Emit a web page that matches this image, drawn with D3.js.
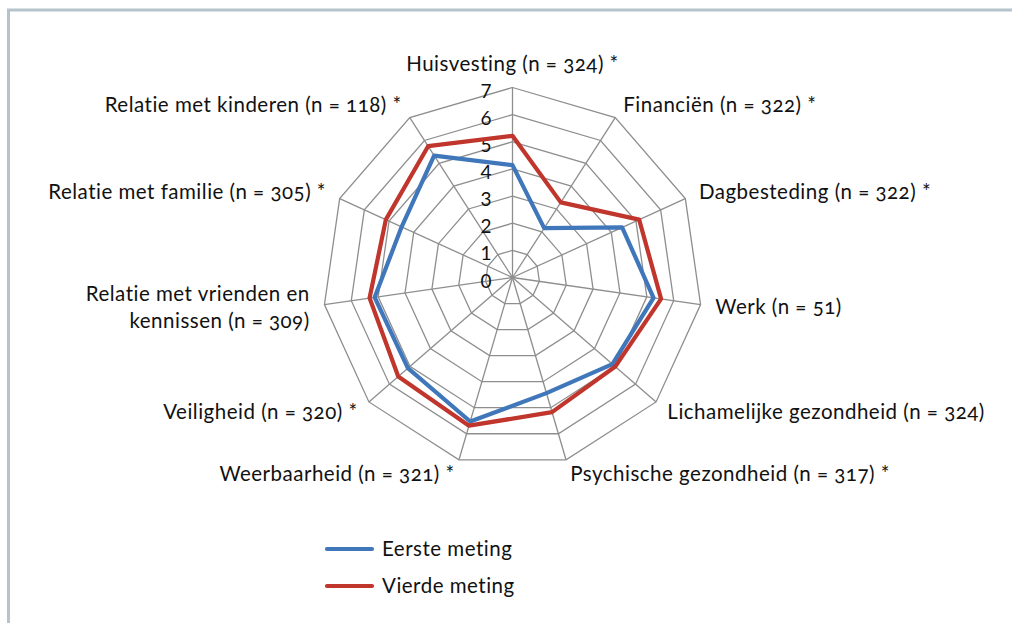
<!DOCTYPE html>
<html>
<head>
<meta charset="utf-8">
<script src="https://cdn.jsdelivr.net/npm/d3@7"></script>
<style>
  body { margin: 0; background: #fff; }
  svg text { font-family: Lato, "Open Sans", sans-serif; fill: #111; font-variant-numeric: oldstyle-nums; font-feature-settings: "onum" 1; }
</style>
</head>
<body>
<div id="chart-area"></div>
<script>
// categories (clockwise from top)
const categories = [
  "Huisvesting (n = 324) *",
  "Financiën (n = 322) *",
  "Dagbesteding (n = 322) *",
  "Werk (n = 51)",
  "Lichamelijke gezondheid (n = 324)",
  "Psychische gezondheid (n = 317) *",
  "Weerbaarheid (n = 321) *",
  "Veiligheid (n = 320) *",
  "Relatie met vrienden en\nkennissen (n = 309)",
  "Relatie met familie (n = 305) *",
  "Relatie met kinderen (n = 118) *"
];
const eersteMeting = [4.14, 2.16, 4.44, 5.25, 4.87, 4.44, 5.53, 5.10, 5.13, 4.49, 5.34];
const vierdeMeting = [5.22, 3.29, 5.13, 5.53, 5.01, 5.17, 5.69, 5.57, 5.32, 5.13, 5.75];
const ticks = [0, 1, 2, 3, 4, 5, 6, 7];
const seriesNames = ["Eerste meting", "Vierde meting"];

const width = 1012, height = 623;
const cx = 512.5, cy = 277.5;

const svg = d3.select("#chart-area").append("svg")
  .attr("width", width)
  .attr("height", height);

// frame
svg.append("rect")
  .attr("x", 8.5).attr("y", 10)
  .attr("width", 1100).attr("height", 700)
  .attr("fill", "none")
  .attr("stroke", "#b5c4cc")
  .attr("stroke-width", 3);

const r = d3.scaleLinear().domain([0, 7]).range([0, 190]);
const angle = d3.scaleLinear().domain([0, categories.length]).range([0, 2 * Math.PI]);

const color = d3.scaleOrdinal()
  .domain(seriesNames)
  .range(["#3f77ba", "#c0352c"]);

const g = svg.append("g")
  .attr("transform", "translate(" + cx + "," + cy + ")");

function pt(i, v) {
  const a = angle(i);
  return [Math.sin(a) * r(v), -Math.cos(a) * r(v)];
}

// grid polygons
ticks.slice(1).forEach(function (t) {
  g.append("path")
    .attr("d", d3.line()(categories.map((c, i) => pt(i, t))) + "Z")
    .attr("fill", "none")
    .attr("stroke", "#8e8e8e")
    .attr("stroke-width", 1.3);
});

// spokes
categories.forEach(function (c, i) {
  const p = pt(i, 7);
  g.append("line")
    .attr("x1", 0).attr("y1", 0)
    .attr("x2", p[0]).attr("y2", p[1])
    .attr("stroke", "#8e8e8e")
    .attr("stroke-width", 1.3);
});

// tick labels
ticks.forEach(function (t) {
  g.append("text")
    .attr("x", -21)
    .attr("y", -r(t) + 10)
    .attr("text-anchor", "end")
    .style("font-size", "19px")
    .style("font-variant-numeric", "lining-nums")
    .style("font-feature-settings", "normal")
    .text(t);
});

// series
[eersteMeting, vierdeMeting].forEach(function (vals, k) {
  g.append("path")
    .attr("d", d3.line()(vals.map((v, i) => pt(i, v))) + "Z")
    .attr("fill", "none")
    .attr("stroke", color(seriesNames[k]))
    .attr("stroke-width", 4.2)
    .attr("stroke-linejoin", "round");
});

// axis labels
categories.forEach(function (c, i) {
  const a = angle(i);
  const lines = c.split("\n");
  let p = pt(i, 7.55);
  let anchor = "middle";
  if (Math.sin(a) > 0.05) anchor = "start";
  if (Math.sin(a) < -0.05) anchor = "end";
  if (i === 0) p = [0, -r(7) - 24];
  const t = g.append("text")
    .attr("text-anchor", anchor)
    .style("font-size", "20.5px")
    .style("letter-spacing", "0.5px")
    .attr("x", p[0])
    .attr("y", p[1] + 7 - (lines.length - 1) * 13);
  lines.forEach(function (l, j) {
    t.append("tspan")
      .attr("x", p[0])
      .attr("dy", j === 0 ? 0 : 27)
      .text(l);
  });
});

// legend
const legend = svg.append("g")
  .attr("transform", "translate(327, 549)");
seriesNames.forEach(function (name, i) {
  const row = legend.append("g")
    .attr("transform", "translate(0, " + (i * 37) + ")");
  row.append("line")
    .attr("x1", 0).attr("x2", 45)
    .attr("stroke", color(name))
    .attr("stroke-width", 4.2)
    .attr("stroke-linecap", "round");
  row.append("text")
    .attr("x", 55)
    .attr("y", 7)
    .style("font-size", "20.5px")
    .style("letter-spacing", "0.5px")
    .text(name);
});
</script>
</body>
</html>
